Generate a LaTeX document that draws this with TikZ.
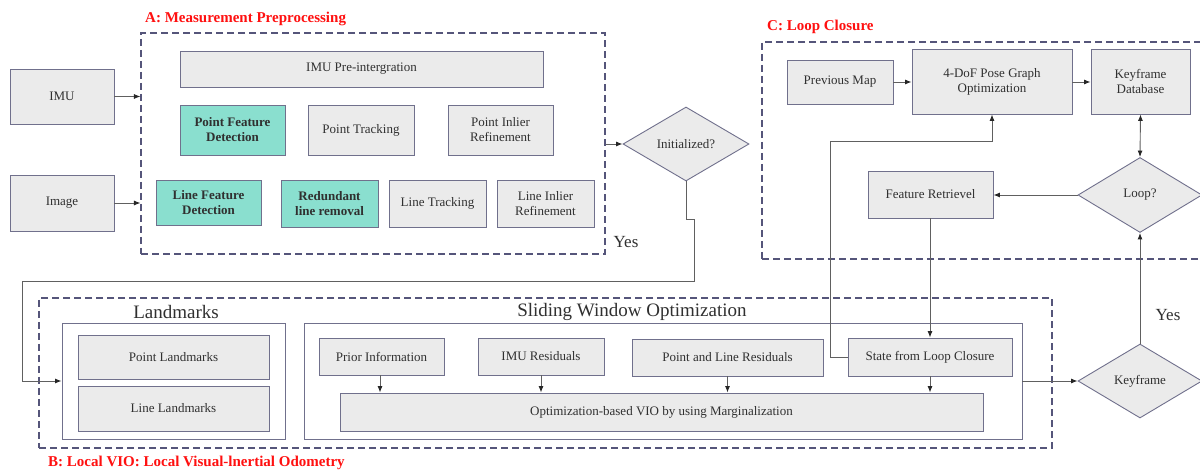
\documentclass[tikz,border=0pt]{standalone}
\usepackage{fontspec}
\IfFontExistsTF{Liberation Serif}{\setmainfont{Liberation Serif}}{\setmainfont{DejaVu Serif}}
\usetikzlibrary{shapes.geometric,arrows.meta}
\definecolor{boxfill}{HTML}{EBEBEB}
\definecolor{boxedge}{HTML}{70708C}
\definecolor{tealfill}{HTML}{8ADFCF}
\definecolor{dashedge}{HTML}{55557A}
\definecolor{wire}{HTML}{606060}
\definecolor{txt}{HTML}{303030}
\definecolor{titlered}{HTML}{FF1010}
\tikzset{
  box/.style={draw=boxedge, line width=0.9pt, fill=boxfill, inner sep=1pt, align=center,
    text=txt, font=\fontsize{13}{15}\selectfont},
  featbox/.style={box, fill=tealfill, font=\fontsize{13}{15}\selectfont\bfseries},
  decision/.style={diamond, draw=boxedge, line width=0.9pt, fill=boxfill, inner sep=0pt,
    text=txt, font=\fontsize{13}{15}\selectfont},
  group/.style={draw=dashedge, line width=1.1pt, dash pattern=on 7pt off 4pt, inner sep=0pt},
  frame/.style={draw=boxedge, line width=0.9pt, inner sep=0pt},
  wireline/.style={draw=wire, line width=0.9pt},
  tip/.style={},
  arrow/.style={wireline, -{Latex[length=6.5pt,width=5pt,color=black!85]}},
  dblarrow/.style={wireline, {Latex[length=6.5pt,width=5pt,color=black!85]}-{Latex[length=6.5pt,width=5pt,color=black!85]}},
  grouptitle/.style={text=titlered, font=\fontsize{15}{17}\selectfont\bfseries, inner sep=0pt},
  bigtitle/.style={text=txt, font=\fontsize{19}{21}\selectfont, inner sep=0pt},
  sz/.style 2 args={minimum width=#1pt, minimum height=#2pt}
}
\begin{document}
\begin{tikzpicture}[x=1pt,y=-1pt]
\useasboundingbox (0,0) rectangle (1200,470);
\fill[white] (0,0) rectangle (1200,470);

% ---- A: measurement preprocessing ----
\node[group, sz={464}{221}] (A) at (373,143.5) {};
\node[grouptitle, anchor=base west] (Atitle) at (145,22.5) {A: Measurement Preprocessing};
\node[box, sz={104}{55}] (imu) at (62,96.5) {IMU};
\node[box, sz={104}{56}] (image) at (62,203) {Image};
\node[box, sz={363}{36}] (preint) at (361.5,69) {IMU Pre-intergration};
\node[featbox, sz={105}{50}] (pfd) at (232.5,130) {Point Feature\\Detection};
\node[box, sz={106}{50}] (ptrack) at (361,130) {Point Tracking};
\node[box, sz={105}{50}] (pinl) at (500.5,130) {Point Inlier\\Refinement};
\node[featbox, sz={105}{45}] (lfd) at (208.5,202.5) {Line  Feature\\Detection};
\node[featbox, sz={97}{47}] (redund) at (329.5,203.5) {Redundant\\line removal};
\node[box, sz={97}{47}] (ltrack) at (437.5,203.5) {Line Tracking};
\node[box, sz={97}{47}] (linl) at (545.5,203.5) {Line Inlier\\Refinement};
\node[decision, sz={126}{74}] (init) at (686,144) {Initialized?};
\node[text=txt, font=\fontsize{17}{19}\selectfont, inner sep=0pt] (yes1) at (626,242) {Yes};

% ---- C: loop closure ----
\node[group, sz={452}{217}] (C) at (988,150.5) {};
\node[grouptitle, anchor=base west] (Ctitle) at (767,30.5) {C: Loop Closure};
\node[box, sz={106}{44}] (prevmap) at (840,82) {Previous Map};
\node[box, sz={160}{65}] (pose) at (992,81.5) {4-DoF Pose Graph\\Optimization};
\node[box, sz={99}{65}] (kfdb) at (1140.5,81.5) {Keyframe\\Database};
\node[decision, sz={124}{75}] (loop) at (1140,195) {Loop?};
\node[box, sz={125}{47}] (fret) at (930.5,194.5) {Feature Retrievel};

% ---- B: local VIO ----
\node[group, sz={1013}{150}] (B) at (545.5,373) {};
\node[grouptitle, anchor=base west] (Btitle) at (48,466.5) {B: Local VIO: Local Visual-lnertial Odometry};
\node[frame, sz={223}{116}] (lmk) at (173.5,381) {};
\node[bigtitle] (lmktitle) at (176,312) {Landmarks};
\node[box, sz={191}{44}] (ptlm) at (173.5,357) {Point Landmarks};
\node[box, sz={191}{45}] (lnlm) at (173.5,408.5) {Line Landmarks};
\node[frame, sz={718}{116}] (swo) at (663,381) {};
\node[bigtitle] (swotitle) at (632,312) {Sliding Window Optimization};
\node[box, sz={125}{37}] (prior) at (381.5,356.5) {Prior Information};
\node[box, sz={126}{37}] (imures) at (541,356.5) {IMU Residuals};
\node[box, sz={191}{37}] (plres) at (727.5,357.5) {Point and Line Residuals};
\node[box, sz={164}{38}] (state) at (930,357) {State from Loop Closure};
\node[box, sz={643}{38}] (optvio) at (661.5,412) {Optimization-based VIO by using Marginalization};
\node[decision, sz={124}{74}] (kf) at (1140,381) {Keyframe};
\node[text=txt, font=\fontsize{17}{19}\selectfont, inner sep=0pt] (yes2) at (1168,315) {Yes};

% ---- connectors ----
\draw[arrow] (imu.east) -- (imu.east -| A.west);
\draw[arrow] (image.east) -- (image.east -| A.west);
\draw[arrow] (init.west -| A.east) -- (init.west);
\coordinate (j1) at (686,219);
\coordinate (j2) at (694,219);
\coordinate (j3) at (694,281);
\coordinate (j4) at (22,281);
\draw[arrow] (init.south) -- (j1) -- (j2) -- (j3) -- (j4) -- (j4 |- lmk.west) -- (lmk.west);

\draw[arrow] (prevmap.east) -- (prevmap.east -| pose.west);
\draw[arrow] (pose.east |- prevmap.east) -- (kfdb.west |- prevmap.east);
\draw[dblarrow] (kfdb.south) -- (loop.north);
\draw[arrow] (loop.west) -- (fret.east |- loop.west);
\draw[arrow] (fret.south -| state.north) -- (state.north);
\coordinate (k1) at (830,357);
\coordinate (k2) at (830,141);
\draw[arrow] (state.west) -- (k1) -- (k2) -- (k2 -| pose.south) -- (pose.south);
\draw[arrow] (kf.north) -- (loop.south);
\draw[arrow] (swo.east |- kf.west) -- (kf.west);

\draw[arrow] (prior.south -| 380,0) -- (optvio.north -| 380,0);
\draw[arrow] (imures.south) -- (imures.south |- optvio.north);
\draw[arrow] (plres.south) -- (plres.south |- optvio.north);
\draw[arrow] (state.south) -- (state.south |- optvio.north);
\end{tikzpicture}
\end{document}
